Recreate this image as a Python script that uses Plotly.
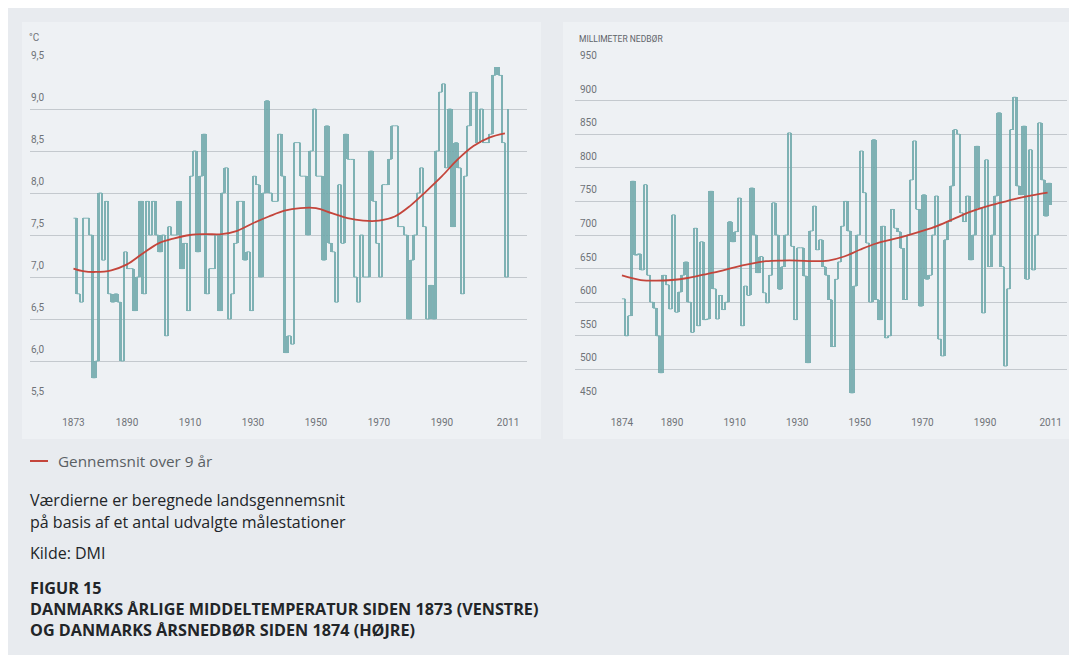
import plotly.graph_objects as go

# ---------------- DATA ----------------
temp_years = list(range(1873, 2012))
temp_values = [
    7.7, 6.8, 6.7, 7.7, 7.7, 7.5, 5.8, 6.0, 8.0, 7.2,
    7.9, 6.8, 6.7, 6.8, 6.7, 6.0, 7.3, 7.1, 7.1, 6.6,
    7.0, 7.9, 6.8, 7.9, 7.5, 7.9, 7.5, 7.3, 7.5, 6.3,
    7.6, 7.5, 7.5, 7.9, 7.1, 7.4, 6.6, 8.2, 8.5, 7.3,
    8.2, 8.7, 6.8, 7.1, 7.1, 7.5, 6.6, 8.0, 8.3, 6.5,
    6.8, 7.4, 7.9, 7.9, 7.2, 7.3, 6.6, 8.2, 8.1, 7.0,
    8.0, 9.1, 8.0, 7.9, 7.9, 8.7, 8.2, 6.1, 6.3, 6.2,
    8.6, 8.6, 8.2, 8.2, 7.5, 8.5, 9.0, 8.2, 8.2, 7.2,
    8.8, 7.4, 7.3, 6.7, 8.1, 7.4, 8.7, 8.4, 8.4, 7.0,
    6.7, 7.5, 7.0, 7.0, 8.5, 7.9, 7.4, 7.0, 8.1, 8.1,
    8.4, 8.8, 8.8, 7.6, 7.6, 7.5, 6.5, 7.2, 7.5, 8.0,
    8.3, 7.6, 6.5, 6.9, 6.5, 8.5, 9.2, 9.3, 8.3, 9.0,
    7.6, 8.6, 8.3, 6.8, 8.2, 8.8, 9.2, 9.2, 8.6, 9.0,
    8.6, 8.6, 8.7, 9.4, 9.5, 9.4, 8.6, 7.0, 9.0,
]
temp_avg_years = [1873, 1876, 1880, 1885, 1890, 1895, 1900, 1905, 1910, 1915,
                  1920, 1925, 1930, 1935, 1940, 1945, 1950, 1955, 1960, 1965,
                  1970, 1975, 1980, 1985, 1990, 1995, 2000, 2005, 2010]
temp_avg_values = [7.10, 7.07, 7.06, 7.08, 7.15, 7.28, 7.40, 7.46, 7.50, 7.51,
                   7.51, 7.55, 7.64, 7.72, 7.79, 7.82, 7.82, 7.76, 7.70, 7.67,
                   7.67, 7.72, 7.85, 8.02, 8.20, 8.40, 8.56, 8.66, 8.71]

rain_years = list(range(1874, 2012))
rain_values = [
    605, 550, 580, 780, 670, 672, 648, 775, 640, 600,
    591, 550, 495, 640, 626, 590, 730, 585, 615, 640,
    660, 600, 555, 710, 565, 690, 574, 575, 765, 620,
    575, 610, 589, 600, 720, 690, 705, 755, 565, 624,
    610, 770, 700, 644, 668, 614, 599, 640, 748, 700,
    619, 653, 700, 852, 683, 574, 681, 681, 639, 510,
    706, 743, 678, 693, 653, 640, 604, 534, 634, 660,
    713, 750, 706, 465, 624, 700, 825, 763, 688, 600,
    842, 604, 574, 713, 547, 550, 738, 710, 705, 680,
    604, 700, 782, 840, 738, 594, 760, 634, 640, 700,
    758, 545, 520, 693, 720, 773, 857, 850, 733, 720,
    758, 663, 700, 832, 740, 584, 812, 653, 700, 758,
    882, 653, 505, 620, 857, 905, 773, 760, 862, 634,
    827, 648, 700, 867, 782, 728, 777, 745,
]
rain_avg_years = [1874, 1880, 1885, 1890, 1895, 1900, 1905, 1910, 1915, 1920,
                  1925, 1930, 1935, 1940, 1945, 1950, 1955, 1960, 1965, 1970,
                  1975, 1980, 1985, 1990, 1995, 2000, 2005, 2010]
rain_avg_values = [640, 633, 632, 633, 636, 641, 646, 652, 657, 661,
                   662, 662, 661, 662, 668, 678, 687, 693, 699, 706,
                   714, 724, 734, 742, 748, 754, 759, 763]

temp_xticks = [1873, 1890, 1910, 1930, 1950, 1970, 1990, 2011]
rain_xticks = [1874, 1890, 1910, 1930, 1950, 1970, 1990, 2011]
temp_yticks = [5.5, 6.0, 6.5, 7.0, 7.5, 8.0, 8.5, 9.0, 9.5]
temp_yticklabels = ["5,5", "6,0", "6,5", "7,0", "7,5", "8,0", "8,5", "9,0", "9,5"]
rain_yticks = [450, 500, 550, 600, 650, 700, 750, 800, 850, 900, 950]
rain_yticklabels = [str(v) for v in rain_yticks]

# ---------------- STYLE ----------------
OFF = 8                      # page body margin
W, H = 1077 - OFF, 655 - OFF
BG = "#e8ebef"
PANEL = "#eef1f4"
GRID = "#c4c9ce"
TEAL_LINE = "#7db3b5"
TEAL_FILL = "rgba(108,164,167,0.85)"
RED = "#c4453b"
TICKFONT = dict(family="Roboto, Open Sans, sans-serif", size=10, color="#6e7378")
TEXTFONT = "Open Sans, Roboto, sans-serif"


def px_x(p):
    return (p - OFF) / W


def px_y(p):
    return 1 - (p - OFF) / H


fig = go.Figure()


def add_panel(xs, vals, avg_x, avg_y, xa, ya):
    diffs = [vals[i] - vals[i - 1] for i in range(1, len(vals))]
    fig.add_trace(go.Bar(
        x=xs[1:], y=diffs, base=vals[:-1], width=0.8, xaxis=xa, yaxis=ya,
        marker=dict(color=TEAL_FILL, line=dict(width=0)),
        showlegend=False, hoverinfo="skip"))
    fig.add_trace(go.Scatter(
        x=xs, y=vals, mode="lines", xaxis=xa, yaxis=ya,
        line=dict(shape="hv", color=TEAL_LINE, width=1),
        showlegend=False, hoverinfo="skip"))
    fig.add_trace(go.Scatter(
        x=avg_x, y=avg_y, mode="lines", xaxis=xa, yaxis=ya,
        line=dict(shape="spline", color=RED, width=1.8),
        showlegend=False, hoverinfo="skip"))


add_panel(temp_years, temp_values, temp_avg_years, temp_avg_values, "x", "y")
add_panel(rain_years, rain_values, rain_avg_years, rain_avg_values, "x2", "y2")

# plot-area pixel geometry (page pixels)
L_X0, L_X1 = 30, 527
R_X0, R_X1 = 575, 1067
Y_TOP, Y_BOT = 67, 403

xaxis_common = dict(
    showgrid=False, zeroline=False, showline=False,
    ticks="outside", ticklen=10, tickcolor="rgba(0,0,0,0)",
    tickfont=TICKFONT, fixedrange=True,
)
yaxis_common = dict(
    showgrid=True, gridcolor=GRID, gridwidth=1, zeroline=False,
    showline=False, showticklabels=False, ticks="", fixedrange=True,
)

fig.update_layout(
    width=W, height=H,
    paper_bgcolor=BG, plot_bgcolor="rgba(0,0,0,0)",
    margin=dict(l=0, r=0, t=0, b=0),
    bargap=0, barmode="overlay",
    xaxis=dict(domain=[px_x(L_X0), px_x(L_X1)], range=[1859.2, 2017.0],
               tickmode="array", tickvals=temp_xticks,
               ticktext=[str(t) for t in temp_xticks], anchor="y", **xaxis_common),
    yaxis=dict(domain=[px_y(Y_BOT), px_y(Y_TOP)], range=[5.5, 9.5],
               tickmode="array", tickvals=temp_yticks[:-1], anchor="x", **yaxis_common),
    xaxis2=dict(domain=[px_x(R_X0), px_x(R_X1)], range=[1859.0, 2016.2],
                tickmode="array", tickvals=rain_xticks,
                ticktext=[str(t) for t in rain_xticks], anchor="y2", **xaxis_common),
    yaxis2=dict(domain=[px_y(Y_BOT), px_y(Y_TOP)], range=[450, 950],
                tickmode="array", tickvals=rain_yticks[:-1], anchor="x2", **yaxis_common),
)

# panel backgrounds
shapes = [
    dict(type="rect", xref="paper", yref="paper", layer="below",
         x0=px_x(22), x1=px_x(541), y0=px_y(439), y1=px_y(22),
         fillcolor=PANEL, line=dict(width=0)),
    dict(type="rect", xref="paper", yref="paper", layer="below",
         x0=px_x(563), x1=px_x(1072), y0=px_y(439), y1=px_y(22),
         fillcolor=PANEL, line=dict(width=0)),
    # legend line sample
    dict(type="line", xref="paper", yref="paper",
         x0=px_x(30), x1=px_x(48), y0=px_y(461), y1=px_y(461),
         line=dict(color=RED, width=2)),
]
fig.update_layout(shapes=shapes)

ann = []
# y tick labels (above their gridlines, left-aligned)
for v, t in zip(temp_yticks, temp_yticklabels):
    ann.append(dict(x=px_x(L_X0 - 1), xref="paper", y=v, yref="y", text=t,
                    showarrow=False, xanchor="left", yanchor="bottom", yshift=4,
                    font=TICKFONT))
for v, t in zip(rain_yticks, rain_yticklabels):
    ann.append(dict(x=px_x(R_X0 + 3), xref="paper", y=v, yref="y2", text=t,
                    showarrow=False, xanchor="left", yanchor="bottom", yshift=4,
                    font=TICKFONT))
# unit labels
ann.append(dict(x=px_x(27), y=px_y(37), xref="paper", yref="paper", text="°C",
                showarrow=False, xanchor="left", yanchor="middle",
                font=dict(family="Roboto, sans-serif", size=10, color="#6e7378")))
ann.append(dict(x=px_x(577), y=px_y(39), xref="paper", yref="paper",
                text="MILLIMETER NEDBØR", showarrow=False, xanchor="left",
                yanchor="middle",
                font=dict(family="Roboto, sans-serif", size=8.5, color="#5f6469")))
# legend text
ann.append(dict(x=px_x(56), y=px_y(461), xref="paper", yref="paper",
                text="Gennemsnit over 9 år", showarrow=False, xanchor="left",
                yanchor="middle", font=dict(family=TEXTFONT, size=15.3, color="#5a5f64")))
# notes
notes = [
    (500, "Værdierne er beregnede landsgennemsnit", False),
    (522, "på basis af et antal udvalgte målestationer", False),
    (553, "Kilde: DMI", False),
    (588, "FIGUR 15", True),
    (609, "DANMARKS ÅRLIGE MIDDELTEMPERATUR SIDEN 1873 (VENSTRE)", True),
    (630, "OG DANMARKS ÅRSNEDBØR SIDEN 1874 (HØJRE)", True),
]
for ypx, txt, bold in notes:
    ann.append(dict(x=px_x(28), y=px_y(ypx), xref="paper", yref="paper",
                    text=f"<b>{txt}</b>" if bold else txt, showarrow=False,
                    xanchor="left", yanchor="middle",
                    font=dict(family=TEXTFONT, size=16 if not bold else 16.2,
                              color="#222528")))
fig.update_layout(annotations=ann)

fig.write_html("out.html")
